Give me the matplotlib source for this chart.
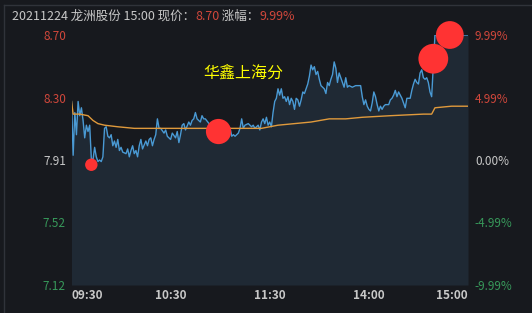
import matplotlib
matplotlib.use("Agg")
import matplotlib.pyplot as plt

plt.rcParams['font.family'] = ['Noto Sans CJK SC', 'DejaVu Sans']

# ---------- data ----------
stock_code_date = "20211224"
stock_name = "龙洲股份"
close_time = "15:00"
prev_close = 7.91
last_price = 8.70
pct_change = 9.99
broker = "华鑫上海分"

# minute index from 09:30 (0) to 15:00 (240), lunch break removed
price_min = [0, 1, 2, 3, 4, 5, 6, 7, 8, 9, 10, 11, 12, 13, 14, 15, 16, 17, 18, 19,
             20, 21, 22, 23, 24, 25, 26, 27, 28, 29, 30, 31, 33, 34, 35, 36, 37, 38, 39, 40,
             41, 42, 43, 45, 46, 47, 48, 49, 50, 51, 52, 53, 54, 56, 57, 58, 60, 61, 63, 64,
             65, 66, 67, 68, 69, 71, 72, 73, 74, 75, 76, 78, 79, 80, 81, 84, 87, 89, 92, 96,
             97, 98, 99, 101, 102, 103, 104, 105, 107, 109, 110, 111, 113, 114, 115, 116, 117, 118, 119, 120,
             121, 122, 123, 124, 125, 126, 127, 128, 129, 130, 131, 132, 133, 134, 135, 136, 137, 138, 139, 140,
             141, 142, 143, 144, 145, 146, 147, 148, 149, 150, 151, 153, 154, 155, 156, 157, 158, 159, 160, 161,
             162, 163, 164, 165, 166, 167, 168, 170, 172, 174, 175, 176, 177, 178, 179, 180, 181, 182, 183, 184,
             185, 186, 187, 188, 189, 190, 192, 193, 194, 195, 196, 197, 198, 199, 200, 201, 202, 203, 205, 206,
             207, 208, 209, 210, 211, 212, 213, 214, 215, 216, 217, 218, 220, 230, 240]
price = [8.28, 7.94, 8.21, 8.07, 8.28, 8.19, 8.24, 8.16, 8.05, 8.13, 8.09, 8.13, 7.92, 7.91, 7.99, 7.93, 7.90, 7.91, 7.90, 7.93,
         8.11, 8.12, 8.06, 8.05, 8.07, 8.00, 8.03, 7.99, 8.04, 7.97, 7.99, 7.96, 7.95, 7.98, 7.93, 7.97, 8.00, 7.95, 7.97, 7.93,
         8.00, 8.04, 7.98, 8.03, 8.00, 8.04, 8.05, 8.00, 8.04, 8.07, 8.17, 8.11, 8.11, 8.08, 8.10, 8.06, 8.04, 8.08, 8.05, 8.09,
         8.02, 8.07, 8.13, 8.14, 8.10, 8.15, 8.13, 8.16, 8.17, 8.21, 8.17, 8.15, 8.19, 8.17, 8.17, 8.13, 8.11, 8.09, 8.12, 8.11,
         8.06, 8.07, 8.06, 8.08, 8.11, 8.17, 8.11, 8.13, 8.14, 8.12, 8.13, 8.11, 8.13, 8.10, 8.15, 8.17, 8.14, 8.18, 8.13, 8.15,
         8.12, 8.21, 8.28, 8.30, 8.36, 8.32, 8.36, 8.30, 8.31, 8.28, 8.31, 8.26, 8.30, 8.28, 8.23, 8.30, 8.29, 8.25, 8.29, 8.34,
         8.33, 8.36, 8.39, 8.44, 8.51, 8.48, 8.50, 8.45, 8.47, 8.42, 8.38, 8.36, 8.33, 8.40, 8.38, 8.42, 8.45, 8.53, 8.49, 8.40,
         8.46, 8.43, 8.40, 8.37, 8.43, 8.37, 8.38, 8.37, 8.38, 8.38, 8.38, 8.31, 8.26, 8.29, 8.25, 8.23, 8.22, 8.27, 8.34, 8.31,
         8.26, 8.22, 8.25, 8.23, 8.25, 8.26, 8.26, 8.29, 8.30, 8.32, 8.35, 8.31, 8.34, 8.32, 8.30, 8.27, 8.24, 8.30, 8.30, 8.35,
         8.39, 8.42, 8.40, 8.39, 8.46, 8.48, 8.43, 8.42, 8.43, 8.40, 8.34, 8.31, 8.70, 8.70, 8.70]

# average price line
avg_min = [0, 1, 5, 10, 13, 16, 20, 28, 38, 50, 60, 80, 100, 115, 125, 135, 145, 156,
           166, 176, 193, 213, 218, 220, 230, 240]
avg_price = [8.28, 8.20, 8.20, 8.19, 8.16, 8.14, 8.13, 8.12, 8.11, 8.11, 8.11, 8.11, 8.11, 8.11,
             8.13, 8.14, 8.15, 8.17, 8.17, 8.18, 8.19, 8.20, 8.20, 8.24, 8.25, 8.25]

# broker trades
trade_min = [12, 89, 219, 229]
trade_price = [7.88, 8.09, 8.55, 8.70]

price_ticks = [7.12, 7.52, 7.91, 8.30, 8.70]
pct_ticks = ["-9.99%", "-4.99%", "0.00%", "4.99%", "9.99%"]
time_ticks = [0, 60, 120, 180, 240]
time_labels = ["09:30", "10:30", "11:30", "14:00", "15:00"]

# ---------- style ----------
BG = "#17191e"
FILL = "#1f2934"
LINE = "#4a9ad4"
AVG = "#e09a3c"
RED = "#d0473b"
GREEN = "#37985a"
GREY = "#c8c8c8"
DOT = "#ff3333"
dot_sizes = [80, 330, 460, 400]
tick_colors = [GREEN, GREEN, GREY, RED, RED]

W, H = 532, 313
fig = plt.figure(figsize=(W / 100, H / 100), dpi=100, facecolor=BG)

# plot box in pixels: x 71.5..468, y 35..285
ax = fig.add_axes([71.5 / W, (H - 285) / H, (468 - 71.5) / W, 250 / H])
ax.set_facecolor(BG)
ax.set_xlim(0, 240)
ax.set_ylim(price_ticks[0], price_ticks[-1])

ax.fill_between(price_min, price, price_ticks[0], color=FILL, lw=0, zorder=1)
ax.plot(price_min, price, color=LINE, lw=1.0, zorder=3)
ax.plot(avg_min, avg_price, color=AVG, lw=1.0, zorder=3)
ax.scatter(trade_min, trade_price, s=dot_sizes, color=DOT, edgecolors="none",
           zorder=5, clip_on=False)

ax.text(0.4325, 0.844, broker, transform=ax.transAxes, color="#ffff00",
        fontsize=11.5, ha="center", va="center", zorder=6)

for sp in ax.spines.values():
    sp.set_visible(False)

# left axis: price
ax.set_yticks(price_ticks)
ax.set_yticklabels([f"{v:.2f}" for v in price_ticks])
ax.tick_params(axis="y", length=0, pad=4, labelsize=8.5)
for lbl, c in zip(ax.get_yticklabels(), tick_colors):
    lbl.set_color(c)

# bottom axis: time
ax.set_xticks(time_ticks)
ax.set_xticklabels(time_labels)
ax.tick_params(axis="x", length=0, pad=3, labelsize=8.5, labelcolor=GREY)
xl = ax.get_xticklabels()
xl[0].set_ha("left")
xl[-1].set_ha("right")
for lbl in xl:
    lbl.set_fontweight("bold")

# right axis: percent change
ax2 = ax.twinx()
ax2.set_ylim(ax.get_ylim())
ax2.set_yticks(price_ticks)
ax2.set_yticklabels(pct_ticks)
ax2.tick_params(axis="y", length=0, pad=5, labelsize=8.5)
for lbl, c in zip(ax2.get_yticklabels(), tick_colors):
    lbl.set_color(c)
for sp in ax2.spines.values():
    sp.set_visible(False)
ax2.set_zorder(-1)
ax.patch.set_visible(False)
fig.patch.set_facecolor(BG)

# outer frame lines (left and top)
fig.add_artist(plt.Line2D([4 / W, 4 / W], [0, 1 - 5 / H], color="#30333a", lw=1.0))
fig.add_artist(plt.Line2D([4 / W, 1], [1 - 5 / H, 1 - 5 / H], color="#30333a", lw=1.0))

# header with mixed colours
parts = [
    (f"{stock_code_date} {stock_name} {close_time} 现价：", GREY),
    (f"{last_price:.2f}", RED),
    (" 涨幅：", GREY),
    (f"{pct_change:.2f}%", RED),
]
renderer = fig.canvas.get_renderer()
x = 12 / W
for s, c in parts:
    t = fig.text(x, 1 - 16 / H, s, color=c, fontsize=9, va="center", ha="left")
    x += t.get_window_extent(renderer=renderer).width / (W)

fig.savefig("out.png", dpi=100, facecolor=BG)
